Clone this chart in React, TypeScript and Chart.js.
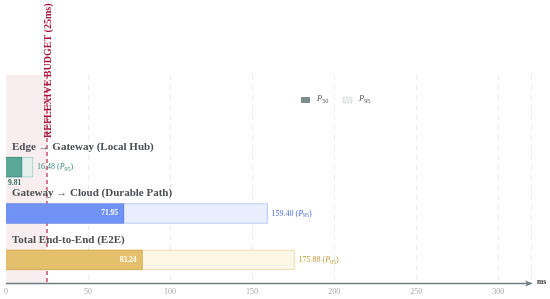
import React, { useEffect, useRef } from 'react';
import { Chart, registerables } from 'chart.js';

Chart.register(...registerables);

const categories = ['Edge → Gateway (Local Hub)', 'Gateway → Cloud (Durable Path)', 'Total End-to-End (E2E)'];
const p50Values = [9.81, 71.95, 83.24];
const p95Values = [16.48, 159.4, 175.88];
const budgetMs = 25;
const budgetLabel = 'REFLEXIVE BUDGET (25ms)';
const xMax = 320;
const xStep = 50;
const axisUnit = 'ms';

const p50Fills = ['#5aa897', '#7092f4', '#e4c06c'];
const p50Borders = ['#3f8a7b', '#5b7fe6', '#d2ab4f'];
const p95Fills = ['#e3f1ee', '#e8eefd', '#fcf6e7'];
const p95Borders = ['#9dcdc3', '#a9bcf3', '#ecd7a2'];
const labelColors = ['#3d8a7a', '#4a6fd8', '#c29b3a'];

const FONT = '"Liberation Serif", serif';

function drawPLabel(ctx: CanvasRenderingContext2D, x: number, y: number, sub: string, size: number, color: string) {
  ctx.fillStyle = color;
  ctx.textBaseline = 'middle';
  ctx.textAlign = 'left';
  ctx.font = `italic ${size}px ${FONT}`;
  ctx.fillText('P', x, y);
  const w = ctx.measureText('P').width;
  ctx.font = `${size * 0.75}px ${FONT}`;
  ctx.fillText(sub, x + w, y + size * 0.3);
  return w + ctx.measureText(sub).width;
}

const overlay = {
  id: 'overlay',
  beforeDatasetsDraw(chart: any) {
    const { ctx, chartArea, scales } = chart;
    const x = scales.x;
    const top = 75;
    const bottom = chartArea.bottom;
    ctx.save();
    const x0 = x.getPixelForValue(0);
    const xb = x.getPixelForValue(budgetMs);
    ctx.fillStyle = 'rgba(236, 205, 212, 0.35)';
    ctx.fillRect(x0, top, xb - x0, bottom - top);
    ctx.setLineDash([5, 5]);
    ctx.strokeStyle = '#ebebeb';
    ctx.lineWidth = 1;
    x.ticks.forEach((t: any) => {
      if (t.value === 0) return;
      const px = Math.round(x.getPixelForValue(t.value)) + 0.5;
      ctx.beginPath();
      ctx.moveTo(px, top);
      ctx.lineTo(px, bottom);
      ctx.stroke();
    });
    ctx.setLineDash([4, 3]);
    ctx.strokeStyle = '#b8284a';
    ctx.lineWidth = 1.2;
    ctx.beginPath();
    ctx.moveTo(xb, top);
    ctx.lineTo(xb, bottom);
    ctx.stroke();
    ctx.restore();
  },
  afterDatasetsDraw(chart: any) {
    const { ctx, chartArea, scales } = chart;
    const x = scales.x;
    const y = scales.y;
    ctx.save();
    categories.forEach((c, i) => {
      const cy = y.getPixelForValue(i);
      ctx.fillStyle = '#4a4e52';
      ctx.font = `bold 11px ${FONT}`;
      ctx.textAlign = 'left';
      ctx.textBaseline = 'middle';
      ctx.fillText(c, 12, cy - 20);
      const xe = x.getPixelForValue(p50Values[i]);
      const x0 = x.getPixelForValue(0);
      const txt = p50Values[i].toFixed(2);
      ctx.font = `bold 7.5px ${FONT}`;
      if (xe - x0 < 30) {
        ctx.fillStyle = '#2f6f62';
        ctx.textAlign = 'left';
        ctx.fillText(txt, x0 + 2, cy + 16);
      } else {
        ctx.fillStyle = '#ffffff';
        ctx.textAlign = 'right';
        ctx.fillText(txt, xe - 6, cy);
      }
      const x95 = x.getPixelForValue(p95Values[i]) + 4;
      ctx.font = `8px ${FONT}`;
      ctx.fillStyle = labelColors[i];
      ctx.textAlign = 'left';
      const t1 = p95Values[i].toFixed(2) + ' (';
      ctx.fillText(t1, x95, cy);
      let w = ctx.measureText(t1).width;
      w += drawPLabel(ctx, x95 + w, cy, '95', 8, labelColors[i]);
      ctx.font = `8px ${FONT}`;
      ctx.textAlign = 'left';
      ctx.fillText(')', x95 + w, cy);
    });
    const ly = 100;
    ctx.fillStyle = '#7f8c8d';
    ctx.fillRect(301, ly - 3, 9, 6);
    drawPLabel(ctx, 317, ly - 1, '50', 8.5, '#555');
    ctx.fillStyle = '#eef0f0';
    ctx.fillRect(343, ly - 3, 9, 6);
    ctx.setLineDash([2, 1]);
    ctx.strokeStyle = '#cfd4d4';
    ctx.lineWidth = 0.8;
    ctx.strokeRect(343, ly - 3, 9, 6);
    ctx.setLineDash([]);
    drawPLabel(ctx, 359, ly - 1, '95', 8.5, '#555');
    const xb = x.getPixelForValue(budgetMs);
    ctx.save();
    ctx.translate(xb + 1, 138);
    ctx.rotate(-Math.PI / 2);
    ctx.font = `bold 10px ${FONT}`;
    ctx.fillStyle = '#a8163c';
    ctx.textAlign = 'left';
    ctx.textBaseline = 'middle';
    ctx.fillText(budgetLabel, 0, 0);
    ctx.restore();
    const ay = Math.round(chartArea.bottom) + 0.5;
    const xr = x.getPixelForValue(xMax);
    ctx.strokeStyle = '#6f7e83';
    ctx.lineWidth = 1.3;
    ctx.beginPath();
    ctx.moveTo(chartArea.left, ay);
    ctx.lineTo(xr - 4, ay);
    ctx.stroke();
    ctx.fillStyle = '#6f7e83';
    ctx.beginPath();
    ctx.moveTo(xr + 2, ay);
    ctx.lineTo(xr - 6, ay - 3);
    ctx.lineTo(xr - 4, ay);
    ctx.lineTo(xr - 6, ay + 3);
    ctx.closePath();
    ctx.fill();
    ctx.font = `bold 7.5px ${FONT}`;
    ctx.fillStyle = '#333';
    ctx.textAlign = 'left';
    ctx.textBaseline = 'middle';
    ctx.fillText(axisUnit, xr + 6, ay - 1);
    ctx.restore();
  },
};

export default function App() {
  const ref = useRef<HTMLCanvasElement>(null);
  useEffect(() => {
    if (!ref.current) return;
    const chart = new Chart(ref.current, {
      type: 'bar',
      data: {
        labels: categories,
        datasets: [
          {
            label: 'P50',
            data: p50Values,
            backgroundColor: p50Fills,
            borderColor: p50Borders,
            borderWidth: 1,
            grouped: false,
            barThickness: 20,
          } as any,
          {
            label: 'P95',
            data: p95Values,
            backgroundColor: p95Fills,
            borderColor: p95Borders,
            borderWidth: 1,
            borderDash: [4, 3],
            grouped: false,
            barThickness: 20,
          } as any,
        ],
      },
      options: {
        indexAxis: 'y',
        animation: false,
        responsive: false,
        maintainAspectRatio: false,
        layout: { padding: { top: 144, left: 6, right: 19, bottom: 0 } },
        plugins: { legend: { display: false }, tooltip: { enabled: false } },
        scales: {
          x: {
            min: 0,
            max: xMax,
            grid: { display: false, drawTicks: false, tickLength: 0 },
            border: { display: false },
            afterFit: (s: any) => { s.height = 16; },
            ticks: {
              stepSize: xStep,
              color: '#a8a8a8',
              font: { family: FONT, size: 8 },
              padding: 4,
              callback: (v: any) => (Number(v) % xStep === 0 && Number(v) <= 300 ? String(v) : ''),
            },
          },
          y: { display: false },
        },
      },
      plugins: [overlay],
    });
    return () => chart.destroy();
  }, []);
  return (
    <div style={{ position: 'absolute', left: 0, top: 0, width: 550, height: 299, background: '#fff' }}>
      <canvas ref={ref} width={550} height={299} />
    </div>
  );
}
